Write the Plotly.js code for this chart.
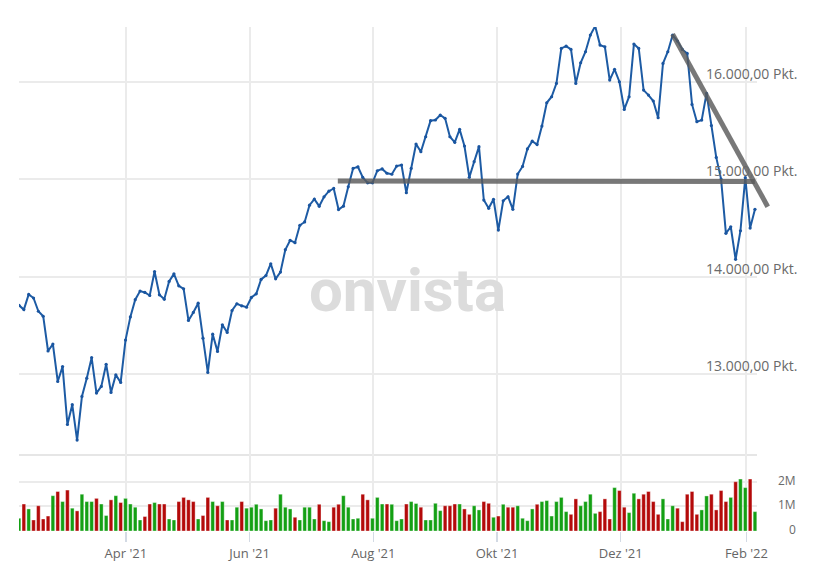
<!DOCTYPE html>
<html>
<head>
<meta charset="utf-8">
<script src="https://cdn.plot.ly/plotly-3.0.1.min.js"></script>
<style>html,body{margin:0;padding:0;background:#fff;}#chart{width:825px;height:569px;}</style>
</head>
<body>
<div id="chart"></div>
<script>
// ---- data ----
const firstDate = '2021-02-07T07:00:00Z';
const lastDate  = '2022-02-05T05:00:00Z';
const closeValues = [
13704,13660,13816,13779,13643,13592,13235,13306,12922,13075,
12480,12684,12320,12769,12956,13167,12803,12871,13099,12810,
12990,12912,13347,13585,13762,13850,13836,13805,14051,13812,
13767,13949,14027,13904,13873,13549,13631,13726,13367,13015,
13408,13231,13504,13425,13651,13720,13699,13685,13785,13822,
13970,14010,14131,13976,14045,14275,14371,14347,14526,14560,
14732,14794,14722,14818,14876,14904,14687,14722,14921,15110,
15127,15017,14962,14962,15086,15105,15060,15050,15134,15145,
14860,15110,15360,15281,15435,15600,15607,15658,15624,15435,
15378,15511,15340,15018,15179,15333,14785,14700,14793,14477,
14778,14819,14690,15052,15130,15310,15390,15355,15545,15784,
15846,15983,16342,16366,16332,15983,16195,16308,16479,16571,
16376,16359,16017,16127,16000,15716,15846,16387,16342,15914,
15863,15802,15630,16188,16308,16479,16417,16332,16291,15767,
15589,15606,15880,15550,15223,15000,14443,14511,14176,14470,
15015,14497,14690
];
const volumeMillions = [
0.52,1.10,0.90,0.45,1.03,0.49,0.61,1.44,1.61,1.20,
1.67,0.93,0.82,1.50,1.20,1.20,1.33,1.10,0.63,1.27,
1.44,1.16,1.33,1.10,0.97,0.45,0.59,1.10,1.16,1.10,
1.10,0.49,0.45,1.20,1.37,1.27,1.20,0.49,0.63,1.37,
1.20,1.03,1.20,0.45,0.45,0.97,1.20,0.93,0.97,1.09,
0.90,0.42,0.45,0.93,1.50,0.97,0.90,0.56,0.45,0.97,
0.97,0.49,1.09,0.42,0.38,0.97,1.09,1.44,0.97,0.49,
0.52,1.50,1.27,0.52,1.37,1.10,1.10,1.09,0.42,0.49,
1.10,1.20,1.12,0.97,0.45,0.45,1.13,0.83,1.03,1.03,
1.10,1.10,0.90,0.68,1.03,0.86,1.20,1.13,0.56,0.61,
1.09,0.97,0.97,1.03,0.52,0.42,0.90,1.09,1.20,1.24,
0.61,1.20,1.37,0.79,0.68,1.31,1.03,1.20,1.50,0.72,
0.79,1.31,0.49,1.77,1.65,0.97,0.75,1.54,1.31,1.50,
1.61,1.20,0.68,1.31,0.49,1.03,0.93,0.38,1.50,1.61,
0.68,0.86,1.43,1.50,0.86,1.65,1.20,1.37,2.01,2.12,
1.77,2.12,0.79
];
// G = rising session, R = falling session
const volumeDirection =
  "GRGRRRRGRG" + "RGRGGGRGGR" + "GRGGGGRRGR" + "RGGRRRRGRR" + "GRGRGGRGGG" +
  "GGGRGGGRGG" + "GGRGGRRGGG" + "GRRGGGRGGG" + "RGGRGGGGRR" + "RGRRGGRRGR" +
  "GRRGGGGRGG" + "GGGGRRGGGG" + "RRRGRRGGRR" + "RRRGGGRRRR" + "RGGRRRRGRG" + "GRG";
const xTickDates = ['2021-04-01','2021-06-01','2021-08-01','2021-10-01','2021-12-01','2022-02-01'];
const xTickText  = ["Apr '21","Jun '21","Aug '21","Okt '21","Dez '21","Feb '22"];
const priceTickVals = [13000,14000,15000,16000];
const priceTickText = ['13.000,00 Pkt.','14.000,00 Pkt.','15.000,00 Pkt.','16.000,00 Pkt.'];
const volTickVals = [0,1,2];
const volTickText = ['0','1M','2M'];
const trendFlatDates = ['2021-07-14 12:00','2022-02-05 04:00'];
const trendFlatVals  = [14980,14975];
const trendDownDates = ['2021-12-26 14:00','2022-02-11 12:00'];
const trendDownVals  = [16487,14717];

// ---- build ----
const t0 = Date.parse(firstDate), t1 = Date.parse(lastDate);
const N = closeValues.length;
const fmt = ms => new Date(ms).toISOString().replace('T',' ').slice(0,19);
const dates = closeValues.map((_, i) => fmt(t0 + (t1 - t0) * i / (N - 1)));

const GREEN = '#14a014', RED = '#b40a0a';
const barColors = volumeDirection.split('').map(c => c === 'G' ? GREEN : RED);

const rangeStart = '2021-02-07 07:00:00';
const rangeEnd = '2022-02-06 05:00:00';
const PLOT_W = 825 - 19 - 50;      // full plot area width
const MAIN_W = 738;                // width of the main x axis
const rs = Date.parse(rangeStart.replace(' ','T') + 'Z');
const re = Date.parse(rangeEnd.replace(' ','T') + 'Z');
const re3 = fmt(rs + (re - rs) * PLOT_W / MAIN_W);
const priceRange = [12167, 16562];
const splitY = 76 / 504;

const font = 'Open Sans, Arial, sans-serif';
const traces = [
  {type:'bar', x: dates, y: volumeMillions, xaxis:'x', yaxis:'y2',
   marker:{color: barColors, line:{width:0.6, color:'rgba(255,255,255,0.6)'}},
   hoverinfo:'skip'},
  {type:'scatter', mode:'lines+markers', x: dates, y: closeValues, xaxis:'x', yaxis:'y',
   line:{color:'#1d5ba4', width:2}, marker:{size:3.2, color:'#1a55a0'}},
  {type:'scatter', mode:'lines', x: trendFlatDates, y: trendFlatVals, xaxis:'x3', yaxis:'y3',
   line:{color:'rgba(90,90,90,0.82)', width:5}},
  {type:'scatter', mode:'lines', x: trendDownDates, y: trendDownVals, xaxis:'x3', yaxis:'y3',
   line:{color:'rgba(90,90,90,0.82)', width:5}}
];

const annotations = [];
priceTickVals.forEach((v, i) => annotations.push({
  xref:'x domain', x:1, xanchor:'right', xshift:42,
  yref:'y', y:v, yanchor:'bottom', yshift:-3,
  text: priceTickText[i], showarrow:false,
  font:{family:font, size:14, color:'#6a6a6a'}
}));
volTickVals.forEach((v, i) => annotations.push({
  xref:'x domain', x:1, xanchor:'right', xshift:41,
  yref:'y2', y:v, yanchor:'middle', yshift:1.5,
  text: volTickText[i], showarrow:false,
  font:{family:font, size:12, color:'#6a6a6a'}
}));
annotations.push({
  xref:'x domain', x:0.527, yref:'y domain', y:0.385,
  xanchor:'center', yanchor:'middle', showarrow:false,
  text:'onvista', font:{family:'Roboto, sans-serif', size:60, weight:700, color:'#dcdcdc'}
});

const layout = {
  width:825, height:569,
  margin:{l:19, r:50, t:27, b:38, pad:0},
  paper_bgcolor:'#fff', plot_bgcolor:'rgba(0,0,0,0)',
  showlegend:false, bargap:0.25,
  font:{family:font, color:'#666'},
  xaxis:{type:'date', domain:[0, MAIN_W/PLOT_W], anchor:'y2', range:[rangeStart, rangeEnd],
    tickvals: xTickDates, ticktext: xTickText, ticks:'outside', ticklen:10, tickwidth:1.5,
    tickcolor:'#d3dae4', showgrid:true, gridcolor:'#ebebeb', gridwidth:2,
    showline:false, zeroline:false, tickfont:{family:font, size:13, color:'#666'}, fixedrange:true},
  yaxis:{domain:[splitY, 1], anchor:'x', range: priceRange, tickvals: priceTickVals,
    showticklabels:false, ticks:'', showgrid:true, gridcolor:'#ebebeb', gridwidth:2,
    zeroline:false, showline:false, fixedrange:true},
  yaxis2:{domain:[0, splitY], anchor:'x', range:[0, 3.1], tickvals: volTickVals,
    showticklabels:false, ticks:'', showgrid:true, gridcolor:'#ebebeb', gridwidth:2,
    zeroline:false, showline:false, fixedrange:true},
  xaxis3:{type:'date', domain:[0,1], anchor:'y3', range:[rangeStart, re3], visible:false, fixedrange:true},
  yaxis3:{domain:[splitY, 1], anchor:'x3', range: priceRange, visible:false, fixedrange:true},
  shapes:[{type:'line', layer:'below', xref:'x domain', x0:0, x1:1, yref:'y2 domain', y0:1, y1:1,
    line:{color:'#e6e6e6', width:2}}],
  annotations: annotations
};

Plotly.newPlot('chart', traces, layout, {displayModeBar:false, staticPlot:true});
</script>
</body>
</html>
